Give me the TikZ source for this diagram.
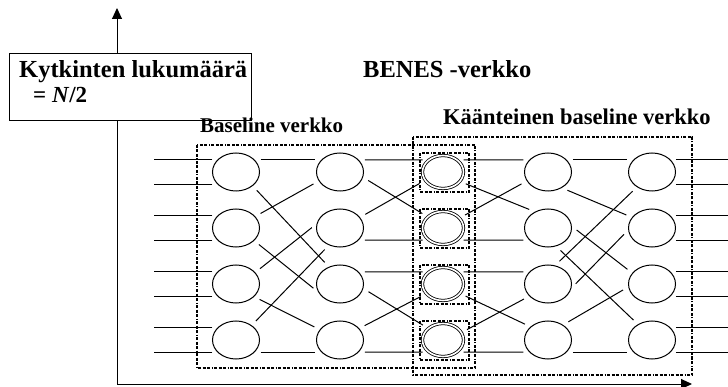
\documentclass[tikz,border=0pt]{standalone}
\usepackage{fontspec}
\setmainfont{Liberation Serif}
\usepackage{tikz}
\usetikzlibrary{shapes,arrows.meta,positioning,calc}
\usepackage{xcolor}

\tikzset{
  wire/.style={line width=1pt},
  link/.style={wire, shorten <=6pt, shorten >=6pt},
  io/.style={wire, shorten <=5pt},
  switchnode/.style={ellipse, draw, line width=1pt, minimum width=47pt, minimum height=38pt, inner sep=0pt},
  midswitch/.style={ellipse, draw, line width=0.8pt, double, double distance=1.6pt, minimum width=41pt, minimum height=33pt, inner sep=0pt},
  dashdot/.style={line width=1.1pt, dash pattern=on 3pt off 1.5pt on 3pt off 1.5pt on 3pt off 1.5pt on 1pt off 1.5pt},
  cellbox/.style={draw, dashdot, minimum width=49pt, minimum height=39pt, inner sep=0pt},
  infobox/.style={draw, fill=white, line width=0.9pt, minimum width=242pt, minimum height=67pt, inner sep=0pt},
  heading/.style={font=\bfseries\fontsize{#1}{#1}\selectfont, inner sep=0pt, anchor=base west},
  axis/.style={line width=1pt, -{Triangle[length=11pt,width=10pt]}}
}

\begin{document}
\begin{tikzpicture}[x=1pt, y=-1pt]
  \useasboundingbox (0,0) rectangle (728,387);

  % axes
  \coordinate (origin) at (117,384);
  \coordinate (ytop) at (117,8);
  \coordinate (xend) at (692,384);
  \draw[axis] (origin) -- (ytop);
  \draw[axis] (origin) -- (xend);

  % switches
  \foreach \c/\x in {1/236,2/340,4/548,5/652} {
    \foreach \r/\y in {1/172,2/228,3/284,4/340} {
      \node[switchnode] (s\c\r) at (\x,\y) {};
    }
  }
  \foreach \r/\y in {1/172,2/228,3/284,4/340} {
    \node[cellbox] (b\r) at (444.5,\y.5) {};
    \node[midswitch] (s3\r) at (443,\y) {};
  }

  % inputs and outputs
  \foreach \r in {1,...,4} {
    \draw[io] (s1\r.147) -- ++(-63,0);
    \draw[io] (s1\r.213) -- ++(-63,0);
    \draw[io] (s5\r.33) -- ++(58,0);
    \draw[io] (s5\r.-33) -- ++(58,0);
  }

  % stage links
  \foreach \a/\p/\b/\q in {
      11/33/21/147, 14/-33/24/213, 11/-40/23/123, 12/31/21/203,
      12/-35/23/200, 13/31/22/170, 13/-35/24/153, 14/43/22/237,
      21/33/31/140, 22/-33/32/220, 23/33/33/140, 24/-33/34/220,
      21/-13/32/144, 22/28/31/205, 23/-11/34/142, 24/31/33/210,
      31/40/41/147, 32/-40/42/213, 33/40/43/147, 34/-40/44/213,
      31/-29/42/129, 32/31/41/203, 33/-29/44/143, 34/22/43/213,
      41/33/51/147, 44/-33/54/213, 41/-49/52/152, 42/4/53/151,
      42/-66/54/132, 43/69/51/225, 43/-10/52/185, 44/45/53/187} {
    \draw[link] (s\a.\p) -- (s\b.\q);
  }

  % network groups
  \draw[dashdot] (197,145) rectangle (475,368);
  \draw[dashdot] (413,137) rectangle (692,375);

  % labels
  \node[infobox] (count) at (130,86.5) {};
  \node[heading=24.5] (countname) at (19,78) {Kytkinten lukumäärä};
  \node[heading=23] (countval) at (33,103) {= \textit{N}/2};
  \node[heading=24.5] (benes) at (363,78) {BENES -verkko};
  \node[heading=21] (baseline) at (200,133) {Baseline verkko};
  \node[heading=22.5] (reverse) at (443,125) {Käänteinen baseline verkko};
\end{tikzpicture}
\end{document}
